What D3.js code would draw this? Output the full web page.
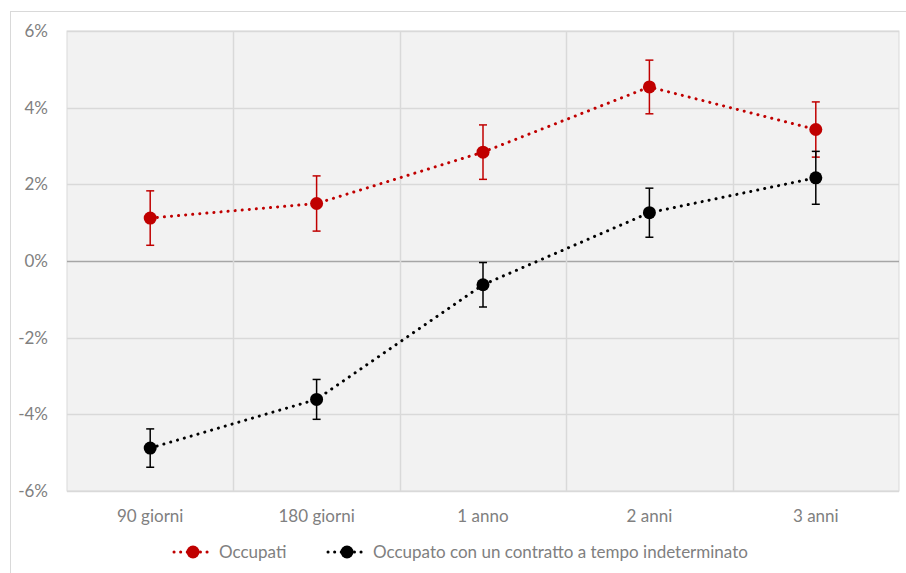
<!DOCTYPE html>
<html>
<head>
<meta charset="utf-8">
<script src="https://cdn.jsdelivr.net/npm/d3@7"></script>
<style>
  body { margin: 0; background: #fff; }
  text { font-family: Lato, "Open Sans", sans-serif; fill: #808080; }
</style>
</head>
<body>
<div id="chart"></div>
<script>
// Categories and series values (percent)
var categories = ["90 giorni", "180 giorni", "1 anno", "2 anni", "3 anni"];
var occupati = [1.12, 1.50, 2.84, 4.54, 3.43];
var occupatiErr = [0.71, 0.72, 0.71, 0.70, 0.72];
var indeterminato = [-4.88, -3.61, -0.62, 1.26, 2.17];
var indeterminatoErr = [0.50, 0.52, 0.58, 0.64, 0.69];
var yTicks = [-6, -4, -2, 0, 2, 4, 6];

var svgWidth = 906, svgHeight = 573;
var margin = { top: 31, left: 67, right: 7, bottom: 82 };
var width = svgWidth - margin.left - margin.right;
var height = svgHeight - margin.top - margin.bottom;

var svg = d3.select("#chart").append("svg")
    .attr("width", svgWidth)
    .attr("height", svgHeight);

// outer chart border
svg.append("rect")
    .attr("x", 10.5).attr("y", 11.5)
    .attr("width", 920).attr("height", 600)
    .attr("fill", "none")
    .attr("stroke", "#d9d9d9");

var chartGroup = svg.append("g")
    .attr("transform", `translate(${margin.left}, ${margin.top})`);

var xScale = d3.scaleBand().domain(categories).range([0, width]);
var yScale = d3.scaleLinear().domain([-6, 6]).range([height, 0]);

// plot background
chartGroup.append("rect")
    .attr("width", width).attr("height", height)
    .attr("fill", "#f2f2f2")
    .attr("stroke", "#d9d9d9");

// horizontal gridlines
chartGroup.selectAll(".hgrid")
    .data(yTicks)
    .enter()
    .append("line")
    .attr("x1", 0).attr("x2", width)
    .attr("y1", d => Math.round(yScale(d)) + 0.5)
    .attr("y2", d => Math.round(yScale(d)) + 0.5)
    .attr("stroke", d => d === 0 ? "#a6a6a6" : "#d9d9d9")
    .attr("stroke-width", 1.5);

// vertical gridlines between categories
var bounds = categories.slice(1).map(c => xScale(c));
chartGroup.selectAll(".vgrid")
    .data(bounds)
    .enter()
    .append("line")
    .attr("x1", d => Math.round(d) + 0.5).attr("x2", d => Math.round(d) + 0.5)
    .attr("y1", 0).attr("y2", height)
    .attr("stroke", "#d9d9d9")
    .attr("stroke-width", 1.5);

// y axis labels
chartGroup.selectAll(".ylab")
    .data(yTicks)
    .enter()
    .append("text")
    .attr("x", -19)
    .attr("y", d => yScale(d))
    .attr("dy", "0.35em")
    .attr("text-anchor", "end")
    .style("font-size", "17px")
    .text(d => d + "%");

// x axis labels
chartGroup.selectAll(".xlab")
    .data(categories)
    .enter()
    .append("text")
    .attr("x", d => xScale(d) + xScale.bandwidth() / 2)
    .attr("y", height + 31)
    .attr("text-anchor", "middle")
    .style("font-size", "17px")
    .text(d => d);

var series = [
    { name: "Occupati", values: occupati, err: occupatiErr, color: "#c00000" },
    { name: "Occupato con un contratto a tempo indeterminato", values: indeterminato, err: indeterminatoErr, color: "#000000" }
];

var cx = d => xScale(d) + xScale.bandwidth() / 2;
var line = d3.line().x(d => cx(d.cat)).y(d => yScale(d.v));

series.forEach(function (s) {
    var pts = categories.map((c, i) => ({ cat: c, v: s.values[i], e: s.err[i] }));
    var g = chartGroup.append("g");

    g.append("path")
        .datum(pts)
        .attr("d", line)
        .attr("fill", "none")
        .attr("stroke", s.color)
        .attr("stroke-width", 3)
        .attr("stroke-linecap", "round")
        .attr("stroke-dasharray", "0.1 7");

    // error bars
    var eb = g.selectAll(".err").data(pts).enter().append("g");
    eb.append("line")
        .attr("x1", d => cx(d.cat)).attr("x2", d => cx(d.cat))
        .attr("y1", d => yScale(d.v + d.e)).attr("y2", d => yScale(d.v - d.e))
        .attr("stroke", s.color).attr("stroke-width", 1.5);
    [1, -1].forEach(function (sign) {
        eb.append("line")
            .attr("x1", d => cx(d.cat) - 4).attr("x2", d => cx(d.cat) + 4)
            .attr("y1", d => yScale(d.v + sign * d.e)).attr("y2", d => yScale(d.v + sign * d.e))
            .attr("stroke", s.color).attr("stroke-width", 1.5);
    });

    g.selectAll("circle").data(pts).enter().append("circle")
        .attr("cx", d => cx(d.cat))
        .attr("cy", d => yScale(d.v))
        .attr("r", 6.5)
        .attr("fill", s.color);
});

// legend
var legendY = 552;
var legendX = [173, 327];
var legend = svg.selectAll(".legend")
    .data(series)
    .enter()
    .append("g")
    .attr("transform", (d, i) => `translate(${legendX[i]}, ${legendY})`);

legend.append("line")
    .attr("x1", 1).attr("x2", 40)
    .attr("y1", 0).attr("y2", 0)
    .attr("stroke", d => d.color)
    .attr("stroke-width", 3)
    .attr("stroke-linecap", "round")
    .attr("stroke-dasharray", "0.1 6.5");
legend.append("circle")
    .attr("cx", 20).attr("cy", 0).attr("r", 6.5)
    .attr("fill", d => d.color);
legend.append("text")
    .attr("x", 46).attr("y", 0)
    .attr("dy", "0.35em")
    .style("font-size", "17px")
    .text(d => d.name);
</script>
</body>
</html>
